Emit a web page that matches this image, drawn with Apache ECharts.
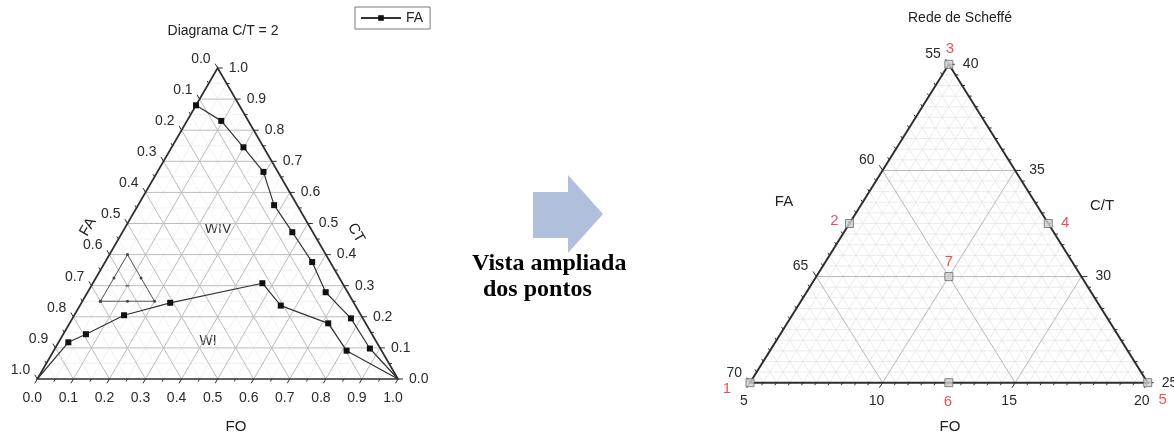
<!DOCTYPE html>
<html>
<head>
<meta charset="utf-8">
<script src="https://cdn.jsdelivr.net/npm/echarts@6/dist/echarts.min.js"></script>
<style>
  html, body { margin: 0; padding: 0; background: #fff; }
  #chart { width: 1174px; height: 434px; }
</style>
</head>
<body>
<div id="chart"></div>
<script>
// ---------- Diagrama C/T = 2 : compositions as fractions [FA, FO, CT] ----------
const upperFA = [
  [0.120, 0.000, 0.880], [0.075, 0.095, 0.830], [0.056, 0.199, 0.745],
  [0.040, 0.294, 0.666], [0.064, 0.377, 0.559], [0.057, 0.471, 0.472],
  [0.050, 0.574, 0.376], [0.061, 0.660, 0.279], [0.033, 0.772, 0.195],
  [0.029, 0.873, 0.098], [0.000, 1.000, 0.000]
];
const lowerFA = [
  [1.000, 0.000, 0.000], [0.855, 0.027, 0.118], [0.793, 0.063, 0.144],
  [0.657, 0.138, 0.205], [0.509, 0.246, 0.245], [0.222, 0.470, 0.308],
  [0.207, 0.557, 0.236], [0.104, 0.717, 0.179], [0.097, 0.812, 0.091],
  [0.000, 1.000, 0.000]
];
// Scheffé region outline (vertices and edge midpoints) and its centre
const regionOutline = [
  [0.700, 0.050, 0.250], [0.625, 0.125, 0.250], [0.550, 0.200, 0.250],
  [0.550, 0.125, 0.325], [0.550, 0.050, 0.400], [0.625, 0.050, 0.325],
  [0.700, 0.050, 0.250]
];
const regionCentre = [[0.600, 0.100, 0.300]];
const fracTicks = [0, 0.1, 0.2, 0.3, 0.4, 0.5, 0.6, 0.7, 0.8, 0.9, 1.0];
const fracTickLabels = ['0.0', '0.1', '0.2', '0.3', '0.4', '0.5', '0.6', '0.7', '0.8', '0.9', '1.0'];

// ---------- Rede de Scheffé : compositions in % ----------
const pointIds = ['1', '2', '3', '4', '5', '6', '7'];
const pointFA = [70, 62.5, 55, 55, 55, 62.5, 60];
const pointFO = [5, 5, 5, 12.5, 20, 12.5, 10];
const pointCT = [25, 32.5, 40, 32.5, 25, 25, 30];
const faTicks = [55, 60, 65, 70];
const foTicks = [5, 10, 15, 20];
const ctTicks = [25, 30, 35, 40];

// Ternary -> cartesian projection (x along FO edge, y = CT)
const projL = (fa, fo, ct) => [fo + ct / 2, ct];
const projR = (fa, fo, ct) => [fo + (ct - 25) / 2, ct];

const FONT = '"Liberation Sans", Arial, sans-serif';

function steps(step, span) {
  const out = [];
  const n = Math.round(span / step);
  for (let k = 1; k < n; k++) out.push(k / n);
  return out;
}

const leftCfg = {
  proj: projL, faMin: 0, foMin: 0, ctMin: 0, span: 1,
  majorGrid: steps(0.1, 1), minorGrid: steps(0.05, 1).filter((t, i) => i % 2 === 0),
  majorColor: '#bcbcbc', minorColor: '#ededed', majorGridWidth: 1, minorGridWidth: 0.8,
  majorTicks: fracTicks, minorTicks: steps(0.05, 1).filter((t, i) => i % 2 === 0),
  majorLen: 5, minorLen: 3,
  faLabels: fracTicks.map((v, i) => ({ t: v, text: fracTickLabels[i] })),
  foLabels: fracTicks.map((v, i) => ({ t: v, text: fracTickLabels[i] })),
  ctLabels: fracTicks.map((v, i) => ({ t: v, text: fracTickLabels[i] })),
  bottomOff: [-5, 19], rightOff: 11, leftOff: [-7, -9],
  fontSize: 14, axisColor: '#2e2e2e', frameWidth: 1.7
};

const rightCfg = {
  proj: projR, faMin: 55, foMin: 5, ctMin: 25, span: 15,
  majorGrid: [5, 10].map(v => v / 15), minorGrid: steps(0.5, 15).filter((t, i) => (i + 1) % 10 !== 0),
  majorColor: '#b8b8b8', minorColor: '#e3e3e3', majorGridWidth: 1, minorGridWidth: 0.7,
  majorTicks: [0, 5, 10, 15].map(v => v / 15), minorTicks: steps(0.5, 15).filter((t, i) => (i + 1) % 10 !== 0),
  majorLen: 6, minorLen: 3,
  faLabels: faTicks.map(v => ({ t: (v - 55) / 15, text: String(v) })),
  foLabels: foTicks.map(v => ({ t: (v - 5) / 15, text: String(v) })),
  ctLabels: ctTicks.map(v => ({ t: (v - 25) / 15, text: String(v) })),
  bottomOff: [-6, 18], rightOff: 14, leftOff: [-8, -10],
  fontSize: 14, axisColor: '#2e2e2e', frameWidth: 2
};

// Draws the triangle, its grid, ticks and tick labels in the plot's own coordinates
function frameRenderer(cfg) {
  return function (params, api) {
    const P = (a, b, c) => api.coord(cfg.proj(
      cfg.faMin + a * cfg.span, cfg.foMin + b * cfg.span, cfg.ctMin + c * cfg.span));
    const BL = P(1, 0, 0), BR = P(0, 1, 0), TP = P(0, 0, 1);
    const unit = (p, q) => {
      const dx = q[0] - p[0], dy = q[1] - p[1], L = Math.hypot(dx, dy);
      return [dx / L, dy / L];
    };
    const dirBottom = unit(TP, BL);
    const dirLeft = unit(BR, TP);
    const kids = [];
    const seg = (p, q, stroke, w) => kids.push({
      type: 'line', silent: true,
      shape: { x1: p[0], y1: p[1], x2: q[0], y2: q[1] },
      style: { stroke: stroke, lineWidth: w }
    });
    const gridLines = (t, stroke, w) => {
      seg(P(1 - t, t, 0), P(0, t, 1 - t), stroke, w);
      seg(P(1 - t, 0, t), P(0, 1 - t, t), stroke, w);
      seg(P(t, 0, 1 - t), P(t, 1 - t, 0), stroke, w);
    };
    cfg.minorGrid.forEach(t => gridLines(t, cfg.minorColor, cfg.minorGridWidth));
    cfg.majorGrid.forEach(t => gridLines(t, cfg.majorColor, cfg.majorGridWidth));

    const ticks = (t, len) => {
      let p = P(1 - t, t, 0);
      seg(p, [p[0] + dirBottom[0] * len, p[1] + dirBottom[1] * len], cfg.axisColor, 1);
      p = P(0, 1 - t, t);
      seg(p, [p[0] + len, p[1]], cfg.axisColor, 1);
      p = P(t, 0, 1 - t);
      seg(p, [p[0] + dirLeft[0] * len, p[1] + dirLeft[1] * len], cfg.axisColor, 1);
    };
    cfg.minorTicks.forEach(t => ticks(t, cfg.minorLen));
    cfg.majorTicks.forEach(t => ticks(t, cfg.majorLen));

    const txt = (text, x, y, align) => kids.push({
      type: 'text', silent: true,
      style: {
        text: text, x: x, y: y, align: align, verticalAlign: 'middle',
        fill: '#2a2a2a', fontSize: cfg.fontSize, fontFamily: FONT
      }
    });
    cfg.foLabels.forEach(l => {
      const p = P(1 - l.t, l.t, 0);
      txt(l.text, p[0] + cfg.bottomOff[0], p[1] + cfg.bottomOff[1], 'center');
    });
    cfg.ctLabels.forEach(l => {
      const p = P(0, 1 - l.t, l.t);
      txt(l.text, p[0] + cfg.rightOff, p[1], 'left');
    });
    cfg.faLabels.forEach(l => {
      const p = P(l.t, 0, 1 - l.t);
      txt(l.text, p[0] + cfg.leftOff[0], p[1] + cfg.leftOff[1], 'right');
    });

    kids.push({
      type: 'polygon', silent: true,
      shape: { points: [BL, BR, TP] },
      style: { fill: 'none', stroke: cfg.axisColor, lineWidth: cfg.frameWidth, lineJoin: 'miter' }
    });
    return { type: 'group', children: kids };
  };
}

const isVertex = p => p.some(v => v === 1);
const curveData = arr => arr.map(p => ({
  value: projL(p[0], p[1], p[2]),
  symbol: isVertex(p) ? 'none' : 'rect'
}));

// label placement around each Scheffé point (label centre relative to the marker)
const pointLabelOffset = {
  '1': [-23, 6], '2': [-15, -3], '3': [1, -15], '4': [17, -1],
  '5': [15, 17], '6': [-1, 19], '7': [0, -15]
};

const chart = echarts.init(document.getElementById('chart'), null, { renderer: 'canvas' });

const textStyle = (text, size, extra) => Object.assign({
  text: text, align: 'center', verticalAlign: 'middle',
  fontSize: size, fontFamily: FONT, fill: '#222'
}, extra || {});

chart.setOption({
  animation: false,
  backgroundColor: '#ffffff',
  grid: [
    { left: 37.3, top: 68, width: 360.7, height: 311 },
    { left: 750, top: 64.3, width: 397.7, height: 318.4 }
  ],
  xAxis: [
    { gridIndex: 0, type: 'value', min: 0, max: 1, show: false },
    { gridIndex: 1, type: 'value', min: 5, max: 20, show: false }
  ],
  yAxis: [
    { gridIndex: 0, type: 'value', min: 0, max: 1, show: false },
    { gridIndex: 1, type: 'value', min: 25, max: 40, show: false }
  ],
  legend: {
    data: ['FA'],
    left: 355, top: 7,
    orient: 'horizontal',
    padding: [4, 7, 4, 5],
    borderColor: '#7a7a7a', borderWidth: 1, borderRadius: 0,
    itemWidth: 40, itemHeight: 7, itemGap: 4,
    textStyle: { fontSize: 14, fontFamily: FONT, color: '#222' },
    selectedMode: false
  },
  series: [
    {
      type: 'custom', name: 'frameL', xAxisIndex: 0, yAxisIndex: 0,
      data: [[0, 0]], renderItem: frameRenderer(leftCfg), z: 1, silent: true, clip: false
    },
    {
      type: 'custom', name: 'frameR', xAxisIndex: 1, yAxisIndex: 1,
      data: [[5, 25]], renderItem: frameRenderer(rightCfg), z: 1, silent: true, clip: false
    },
    {
      type: 'line', name: 'FA', xAxisIndex: 0, yAxisIndex: 0,
      data: curveData(upperFA), symbol: 'rect', symbolSize: 6, showSymbol: true,
      itemStyle: { color: '#111' }, lineStyle: { color: '#333', width: 1.2 },
      clip: false, z: 3, silent: true
    },
    {
      type: 'line', name: 'FA', xAxisIndex: 0, yAxisIndex: 0,
      data: curveData(lowerFA), symbol: 'rect', symbolSize: 6, showSymbol: true,
      itemStyle: { color: '#111' }, lineStyle: { color: '#333', width: 1.2 },
      clip: false, z: 3, silent: true
    },
    {
      type: 'line', name: 'Rede', xAxisIndex: 0, yAxisIndex: 0,
      data: regionOutline.map(p => projL(p[0], p[1], p[2])),
      symbol: 'circle', symbolSize: 3, showSymbol: true,
      itemStyle: { color: '#444' }, lineStyle: { color: '#555', width: 1 },
      clip: false, z: 3, silent: true
    },
    {
      type: 'scatter', name: 'Centro', xAxisIndex: 0, yAxisIndex: 0,
      data: regionCentre.map(p => projL(p[0], p[1], p[2])),
      symbol: 'rect', symbolSize: [4, 1.5], itemStyle: { color: '#555' },
      clip: false, z: 3, silent: true
    },
    {
      type: 'scatter', name: 'Pontos', xAxisIndex: 1, yAxisIndex: 1,
      data: pointIds.map((id, i) => ({
        name: id,
        value: projR(pointFA[i], pointFO[i], pointCT[i]),
        label: { offset: pointLabelOffset[id] }
      })),
      symbol: 'rect', symbolSize: 8,
      itemStyle: { color: '#cfcfcf', borderColor: '#6a6a6a', borderWidth: 1 },
      label: {
        show: true, position: 'inside', formatter: p => p.name,
        color: '#e8262a', fontSize: 15, fontFamily: FONT
      },
      clip: false, z: 4, silent: true
    }
  ],
  graphic: [
    { type: 'text', x: 223, y: 31, silent: true, style: textStyle('Diagrama C/T = 2', 14) },
    { type: 'text', x: 960, y: 18, silent: true, style: textStyle('Rede de Scheffé', 14) },
    { type: 'text', x: 88, y: 227, rotation: Math.PI / 3, silent: true, style: textStyle('FA', 15) },
    { type: 'text', x: 356, y: 233, rotation: -Math.PI / 3, silent: true, style: textStyle('CT', 15) },
    { type: 'text', x: 236, y: 427, silent: true, style: textStyle('FO', 15) },
    { type: 'text', x: 218, y: 229, silent: true, style: textStyle('WIV', 14, { fill: '#333' }) },
    { type: 'text', x: 208, y: 341, silent: true, style: textStyle('WI', 14, { fill: '#333' }) },
    { type: 'text', x: 784, y: 202, silent: true, style: textStyle('FA', 15) },
    { type: 'text', x: 1102, y: 206, silent: true, style: textStyle('C/T', 15) },
    { type: 'text', x: 950, y: 427, silent: true, style: textStyle('FO', 15) },
    { type: 'polygon', silent: true,
      shape: { points: [[533, 192], [568, 192], [568, 175], [603, 214], [568, 253], [568, 238], [533, 238]] },
      style: { fill: '#afbfdc', stroke: 'none' } },
    { type: 'text', x: 472, y: 264, silent: true,
      style: { text: 'Vista ampliada', align: 'left', verticalAlign: 'middle',
        fontSize: 24, fontWeight: 'bold', fontFamily: '"Liberation Serif", "Times New Roman", serif', fill: '#000' } },
    { type: 'text', x: 483, y: 290, silent: true,
      style: { text: 'dos pontos', align: 'left', verticalAlign: 'middle',
        fontSize: 24, fontWeight: 'bold', fontFamily: '"Liberation Serif", "Times New Roman", serif', fill: '#000' } }
  ]
});
</script>
</body>
</html>
